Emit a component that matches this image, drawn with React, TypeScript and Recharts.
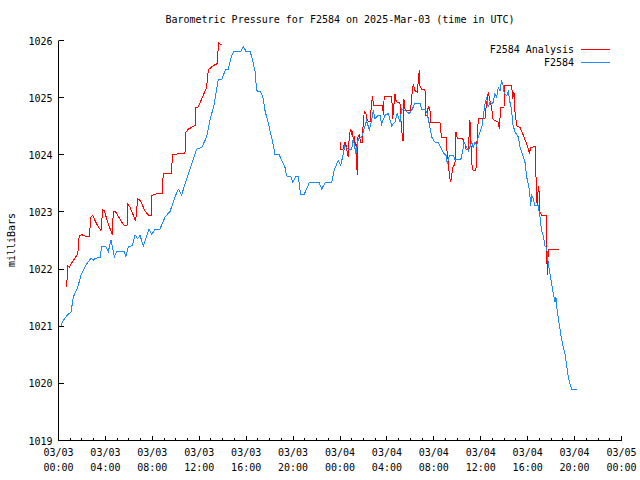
import { LineChart, Line, XAxis, YAxis, Legend } from 'recharts'

const FONT = '"DejaVu Sans Mono", "Liberation Mono", monospace'
const RED = '#ff0000'
const BLUE = '#1e88ff'

// x axis: hours since 03/03 00:00 UTC
const HOUR_TICKS = [
  0, 1, 2, 3, 4, 5, 6, 7, 8, 9, 10, 11, 12, 13, 14, 15, 16, 17, 18, 19, 20, 21, 22, 23, 24,
  25, 26, 27, 28, 29, 30, 31, 32, 33, 34, 35, 36, 37, 38, 39, 40, 41, 42, 43, 44, 45, 46, 47, 48,
]
const MAJOR_HOURS = [0, 4, 8, 12, 16, 20, 24, 28, 32, 36, 40, 44, 48]
const DATE_LABELS = ['03/03', '03/03', '03/03', '03/03', '03/03', '03/03', '03/04', '03/04', '03/04', '03/04', '03/04', '03/04', '03/05']
const TIME_LABELS = ['00:00', '04:00', '08:00', '12:00', '16:00', '20:00', '00:00', '04:00', '08:00', '12:00', '16:00', '20:00', '00:00']
const MBAR_TICKS = [1019, 1020, 1021, 1022, 1023, 1024, 1025, 1026]

// F2584 observed
const OBS_HOURS = [
  0.21, 0.41, 0.78, 1.07, 1.26, 1.64, 1.92, 2.4, 2.77, 2.97,
  3.11, 3.54, 3.68, 4.05, 4.25, 4.48, 4.76, 4.96, 5.61, 5.73,
  5.95, 6.29, 6.52, 6.75, 6.95, 7.23, 7.72, 7.95, 8.23, 8.65,
  9.08, 9.51, 9.93, 10.21, 10.5, 10.93, 11.36, 11.78, 12.21, 12.63,
  12.92, 13.28, 13.62, 13.91, 14.25, 14.48, 14.77, 14.96, 15.53, 15.75,
  15.98, 16.33, 16.47, 16.75, 16.9, 17.24, 17.46, 17.6, 17.97, 18.26,
  18.46, 18.82, 19.03, 19.31, 19.45, 19.8, 19.97, 20.25, 20.44, 20.65,
  20.93, 21.38, 22.23, 22.44, 22.72, 23.29, 23.49, 23.66, 23.85, 24.06,
  24.28, 24.42, 24.71, 25.0, 25.13, 25.36, 25.56, 25.85, 25.98, 26.27,
  26.5, 26.7, 26.84, 26.98, 27.26, 27.41, 27.55, 27.83, 28.12, 28.41,
  28.69, 28.88, 29.11, 29.26, 29.54, 29.91, 30.11, 30.39, 30.82, 30.96,
  31.24, 31.44, 31.67, 31.82, 32.1, 32.38, 32.58, 32.86, 33.04, 33.15,
  33.32, 33.66, 33.8, 34.29, 34.46, 34.57, 34.8, 34.94, 35.23, 35.36,
  35.51, 35.65, 35.79, 36.08, 36.16, 36.36, 36.5, 36.64, 36.78, 37.02,
  37.21, 37.36, 37.49, 37.64, 37.78, 37.92, 38.0, 38.21, 38.35, 38.49,
  38.64, 38.72, 38.92, 39.2, 39.35, 39.63, 39.77, 39.92, 40.14, 40.26,
  40.34, 40.48, 40.63, 40.9, 41.05, 41.19, 41.33, 41.47, 41.62, 41.76,
  41.9, 42.04, 42.18, 42.33, 42.41, 42.52, 42.69, 42.81, 42.98, 43.18,
  43.32, 43.46, 43.61, 43.75, 44.23,
]
const OBS_MBAR = [
  1021.01, 1021.1, 1021.2, 1021.25, 1021.51, 1021.68, 1021.9, 1022.09, 1022.19, 1022.15,
  1022.19, 1022.2, 1022.39, 1022.39, 1022.31, 1022.51, 1022.21, 1022.31, 1022.31, 1022.21,
  1022.39, 1022.41, 1022.6, 1022.53, 1022.59, 1022.41, 1022.7, 1022.6, 1022.7, 1022.7,
  1022.91, 1023.01, 1023.26, 1023.4, 1023.3, 1023.58, 1023.84, 1024.1, 1024.13, 1024.31,
  1024.61, 1024.89, 1025.31, 1025.31, 1025.5, 1025.5, 1025.74, 1025.81, 1025.81, 1025.9,
  1025.81, 1025.81, 1025.72, 1025.47, 1025.12, 1025.1, 1024.98, 1024.78, 1024.48, 1024.22,
  1024.0, 1024.0, 1023.9, 1023.78, 1023.63, 1023.62, 1023.52, 1023.62, 1023.62, 1023.3,
  1023.3, 1023.51, 1023.51, 1023.4, 1023.51, 1023.51, 1023.72, 1023.81, 1023.9, 1023.81,
  1024.02, 1024.16, 1024.1, 1024.1, 1024.28, 1024.02, 1024.28, 1024.31, 1024.4, 1024.6,
  1024.43, 1024.6, 1024.78, 1024.63, 1024.69, 1024.69, 1024.54, 1024.69, 1024.72, 1024.51,
  1024.57, 1024.72, 1024.57, 1024.8, 1024.78, 1024.72, 1024.78, 1024.9, 1024.9, 1024.8,
  1024.8, 1024.72, 1024.48, 1024.31, 1024.22, 1024.22, 1024.13, 1024.02, 1023.99, 1023.84,
  1023.99, 1023.99, 1023.91, 1023.91, 1024.07, 1024.22, 1024.13, 1024.07, 1024.22, 1024.13,
  1024.22, 1024.16, 1024.31, 1024.48, 1024.57, 1024.89, 1025.01, 1024.83, 1024.92, 1024.89,
  1025.07, 1025.01, 1025.18, 1025.12, 1025.3, 1025.21, 1025.07, 1025.04, 1025.1, 1024.92,
  1024.78, 1024.54, 1024.4, 1024.31, 1024.13, 1023.96, 1023.87, 1023.61, 1023.4, 1023.11,
  1023.29, 1023.23, 1023.11, 1023.11, 1022.91, 1022.67, 1022.59, 1022.41, 1022.38, 1022.09,
  1021.92, 1021.74, 1021.57, 1021.42, 1021.51, 1021.27, 1021.04, 1020.87, 1020.69, 1020.52,
  1020.31, 1020.11, 1019.99, 1019.9, 1019.9,
]

// F2584 Analysis (gap between the two runs)
const ANA_HOURS = [
  0.7, 0.78, 0.9, 1.26, 1.64, 1.77, 2.0, 2.4, 2.63, 2.69,
  2.77, 2.92, 3.11, 3.34, 3.62, 3.77, 3.9, 4.25, 4.59, 4.67,
  4.88, 5.39, 5.61, 5.84, 5.9, 6.1, 6.38, 6.58, 6.75, 6.97,
  7.37, 7.72, 7.89, 7.95, 8.37, 8.85, 8.93, 9.65, 9.7, 10.27,
  10.78, 10.87, 11.07, 11.64, 11.7, 11.92, 12.21, 12.63, 12.77, 13.2,
  13.57, 13.62, 13.77, 13.9, 19.0, 24.0, 24.06, 24.23, 24.34, 24.42,
  24.57, 24.62, 24.71, 24.79, 24.91, 25.0, 25.08, 25.13, 25.22, 25.28,
  25.36, 25.47, 25.53, 25.64, 25.76, 25.9, 25.98, 26.07, 26.21, 26.33,
  26.56, 26.7, 26.79, 26.84, 27.64, 27.69, 27.77, 28.41, 28.49, 28.69,
  28.77, 28.88, 29.11, 29.2, 29.34, 29.4, 29.45, 29.54, 29.62, 30.02,
  30.14, 30.25, 30.39, 30.59, 30.76, 30.82, 30.96, 31.24, 31.33, 31.44,
  31.53, 31.67, 31.73, 32.52, 32.58, 32.67, 33.04, 33.15, 33.23, 33.32,
  33.44, 33.61, 33.8, 33.89, 34.0, 34.46, 34.65, 34.74, 34.94, 35.08,
  35.23, 35.36, 35.59, 35.65, 35.79, 36.36, 36.44, 36.64, 36.78, 36.93,
  37.02, 37.21, 37.49, 37.58, 37.7, 37.98, 38.06, 38.64, 38.72, 38.83,
  38.92, 39.06, 39.35, 39.63, 39.86, 40.06, 40.14, 40.26, 40.63, 40.72,
  40.77, 40.82, 40.91, 40.97, 41.05, 41.19, 41.62, 41.62, 41.67, 41.76,
  42.69,
]
const ANA_MBAR = [
  1021.69, 1022.06, 1022.03, 1022.15, 1022.26, 1022.59, 1022.6, 1022.57, 1022.57, 1022.73,
  1022.91, 1022.94, 1022.85, 1022.76, 1022.67, 1023.04, 1023.02, 1022.79, 1022.6, 1023.0,
  1023.0, 1022.82, 1022.76, 1022.76, 1023.14, 1023.08, 1022.94, 1022.84, 1023.23, 1023.2,
  1023.02, 1022.93, 1022.93, 1023.29, 1023.32, 1023.32, 1023.68, 1023.68, 1024.0, 1024.02,
  1024.02, 1024.4, 1024.45, 1024.51, 1024.82, 1024.84, 1024.98, 1025.18, 1025.49, 1025.56,
  1025.6, 1025.97, 1025.94, 1025.93, null, 1024.23, 1024.09, 1024.09, 1024.16, 1024.22,
  1024.13, 1024.02, 1023.96, 1024.34, 1024.45, 1024.37, 1024.4, 1024.25, 1024.32, 1024.16,
  1024.22, 1023.64, 1024.31, 1024.34, 1024.22, 1024.22, 1024.57, 1024.75, 1024.72, 1024.6,
  1024.57, 1024.92, 1025.02, 1024.86, 1024.86, 1024.69, 1025.02, 1025.02, 1024.63, 1025.07,
  1024.95, 1024.92, 1024.92, 1024.6, 1024.25, 1024.25, 1024.98, 1024.8, 1024.78, 1024.78,
  1025.07, 1025.24, 1025.12, 1025.1, 1025.49, 1025.21, 1025.15, 1025.15, 1024.69, 1024.69,
  1024.86, 1024.78, 1024.57, 1024.57, 1024.43, 1024.31, 1024.3, 1023.99, 1023.9, 1023.64,
  1023.52, 1023.78, 1023.84, 1024.4, 1024.28, 1024.28, 1024.19, 1024.1, 1024.1, 1024.6,
  1023.84, 1023.72, 1023.72, 1024.13, 1024.63, 1024.63, 1024.8, 1025.1, 1024.95, 1024.83,
  1024.63, 1024.6, 1024.57, 1024.45, 1024.83, 1024.83, 1025.21, 1025.21, 1024.98, 1025.1,
  1024.75, 1024.51, 1024.48, 1024.34, 1024.22, 1024.1, 1024.02, 1024.13, 1024.14, 1023.55,
  1023.2, 1023.11, 1023.45, 1023.37, 1023.0, 1022.94, 1022.94, 1022.38, 1021.89, 1022.34,
  1022.34,
]

const obsData = OBS_HOURS.map((h, i) => ({ h, p: OBS_MBAR[i] }))
const anaData = ANA_HOURS.map((h, i) => ({ h, p: ANA_MBAR[i] }))

const tickText = { fontSize: 10, fontFamily: FONT, fill: '#000' }

function BottomTick(props: any) {
  const { x, y, payload } = props
  const i = MAJOR_HOURS.indexOf(payload.value)
  const major = i >= 0
  return (
    <g>
      <line x1={x} y1={y} x2={x} y2={y - (major ? 5 : 3)} stroke="#000" shapeRendering="crispEdges" />
      {major && (
        <text x={x} y={y} textAnchor="middle" {...tickText}>
          <tspan x={x} dy={15}>{DATE_LABELS[i]}</tspan>
          <tspan x={x} dy={15}>{TIME_LABELS[i]}</tspan>
        </text>
      )}
    </g>
  )
}

function TopTick(props: any) {
  const { x, y, payload } = props
  const major = MAJOR_HOURS.indexOf(payload.value) >= 0
  return <line x1={x} y1={y} x2={x} y2={y + (major ? 5 : 3)} stroke="#000" shapeRendering="crispEdges" />
}

function LeftTick(props: any) {
  const { x, y, payload } = props
  return (
    <g>
      <line x1={x} y1={y} x2={x + 5} y2={y} stroke="#000" shapeRendering="crispEdges" />
      <text x={x - 6} y={y + 4} textAnchor="end" {...tickText}>
        {payload.value}
      </text>
    </g>
  )
}

function RightTick(props: any) {
  const { x, y } = props
  return <line x1={x} y1={y} x2={x - 5} y2={y} stroke="#000" shapeRendering="crispEdges" />
}

function PressureLegend() {
  const rows = [
    { name: 'F2584 Analysis', color: RED },
    { name: 'F2584', color: BLUE },
  ]
  return (
    <div style={{ fontFamily: FONT, fontSize: 10, color: '#000' }}>
      {rows.map((r) => (
        <div key={r.name} style={{ display: 'flex', justifyContent: 'flex-end', alignItems: 'center', height: 13 }}>
          <span>{r.name}</span>
          <svg width={29} height={13} style={{ marginLeft: 7 }}>
            <line x1={0} y1={6.5} x2={29} y2={6.5} stroke={r.color} strokeWidth={1} shapeRendering="crispEdges" />
          </svg>
        </div>
      ))}
    </div>
  )
}

export default function App() {
  return (
    <div style={{ position: 'absolute', left: 0, top: 0, width: 640, height: 480, background: '#fff', fontFamily: FONT }}>
      <div
        style={{
          position: 'absolute', left: 58, width: 564, top: 14, textAlign: 'center',
          fontSize: 10, lineHeight: '12px', color: '#000',
        }}
      >
        Barometric Pressure for F2584 on 2025-Mar-03 (time in UTC)
      </div>
      <div
        style={{
          position: 'absolute', left: 12, top: 240, fontSize: 10, lineHeight: '12px', color: '#000',
          transform: 'translate(-50%, -50%) rotate(-90deg)', whiteSpace: 'nowrap',
        }}
      >
        milliBars
      </div>
      <LineChart width={640} height={480} margin={{ top: 40.5, right: 18.5, bottom: 0, left: 0 }}>
        <XAxis
          dataKey="h" type="number" domain={[0, 48]} ticks={HOUR_TICKS} interval={0}
          height={39.5} tickSize={0} tickMargin={0} tickLine={false}
          axisLine={{ stroke: '#000' }} tick={<BottomTick />} allowDataOverflow
        />
        <XAxis
          xAxisId="top" orientation="top" dataKey="h" type="number" domain={[0, 48]} ticks={HOUR_TICKS}
          interval={0} height={0} tickSize={0} tickMargin={0} tickLine={false}
          axisLine={{ stroke: '#000' }} tick={<TopTick />} allowDataOverflow
        />
        <YAxis
          type="number" domain={[1019, 1026]} ticks={MBAR_TICKS} interval={0} width={58.5}
          tickSize={0} tickMargin={0} tickLine={false} axisLine={{ stroke: '#000' }}
          tick={<LeftTick />} allowDataOverflow
        />
        <YAxis
          yAxisId="right" orientation="right" type="number" domain={[1019, 1026]} ticks={MBAR_TICKS}
          interval={0} width={0} tickSize={0} tickMargin={0} tickLine={false}
          axisLine={{ stroke: '#000' }} tick={<RightTick />} allowDataOverflow
        />
        <Legend
          layout="vertical" align="center" verticalAlign="middle"
          wrapperStyle={{ position: 'absolute', left: 440, top: 42.5, width: 170 }}
          content={() => <PressureLegend />}
        />
        <Line
          data={anaData} dataKey="p" name="F2584 Analysis" type="linear" stroke={RED}
          strokeWidth={1} dot={false} isAnimationActive={false} shapeRendering="crispEdges"
        />
        <Line
          data={obsData} dataKey="p" name="F2584" type="linear" stroke={BLUE}
          strokeWidth={1} dot={false} isAnimationActive={false} shapeRendering="crispEdges"
        />
      </LineChart>
    </div>
  )
}
